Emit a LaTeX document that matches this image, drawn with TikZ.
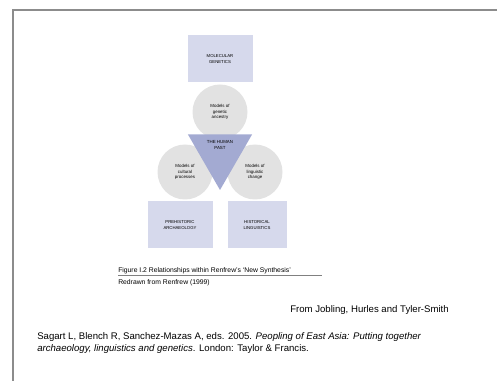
\documentclass[tikz,border=0pt]{standalone}
\usepackage{fontspec}
\setmainfont{Liberation Sans}
\usetikzlibrary{shapes.geometric,positioning}
\definecolor{boxfill}{HTML}{D6D9EC}
\definecolor{circfill}{HTML}{E2E2E2}
\definecolor{trifill}{HTML}{A3AAD2}
\definecolor{framegray}{HTML}{8C8C8C}
\tikzset{
  field/.style={rectangle, fill=boxfill, align=center, font=\fontsize{3.2}{3.9}\selectfont, minimum width=48.75pt, minimum height=35.25pt, inner sep=1pt},
  model/.style={circle, fill=circfill, align=center, font=\fontsize{3.3}{4.1}\selectfont, minimum size=41.25pt, inner sep=0pt},
  core/.style={regular polygon, regular polygon sides=3, shape border rotate=180, fill=trifill, minimum size=55.5pt, inner sep=0pt},
  capt/.style={font=\fontsize{5.1}{6}\selectfont, anchor=west, inner sep=0pt},
  cite/.style={font=\fontsize{7.2}{8.5}\selectfont, anchor=west, inner sep=0pt}
}
\begin{document}
\begin{tikzpicture}[x=0.75pt, y=-0.75pt]
\useasboundingbox (0,0) rectangle (497,381);
% page frame
\draw[framegray, line width=1.5] (13,381) -- (13,10) -- (497,10);
% disciplines and models
\node[field] (gen) at (220,59) {MOLECULAR\\GENETICS};
\node[model] (mgen) at (220,112) {Models of\\genetic\\ancestry};
\node[model] (mcult) at (185,172) {Models of\\cultural\\processes};
\node[model] (mling) at (255,172) {Models of\\linguistic\\change};
\node[core] (past) at (220,153) {};
\node[font=\fontsize{3.3}{4.1}\selectfont, align=center, inner sep=0pt] (pastlbl) at (220,145) {THE HUMAN\\PAST};
\node[field] (arch) at (180,225) {PREHISTORIC\\ARCHAEOLOGY};
\node[field, minimum width=44.25pt] (ling) at (257,225) {HISTORICAL\\LINGUISTICS};
% caption
\node[capt] (fig) at (118,271) {Figure I.2 Relationships within Renfrew's `New Synthesis'};
\coordinate (figend) at (322,275);
\draw[gray, line width=0.4] (fig.south west |- figend) -- (figend);
\node[capt] (redraw) at (118,283) {Redrawn from Renfrew (1999)};
% sources
\node[cite] (from) at (290,310) {From Jobling, Hurles and Tyler-Smith};
\node[cite] (ref1) at (37,337) {Sagart L, Blench R, Sanchez-Mazas A, eds. 2005. \textit{Peopling of East Asia: Putting together}};
\node[cite] (ref2) at (37,349) {\textit{archaeology, linguistics and genetics}. London: Taylor \& Francis.};
\end{tikzpicture}
\end{document}
